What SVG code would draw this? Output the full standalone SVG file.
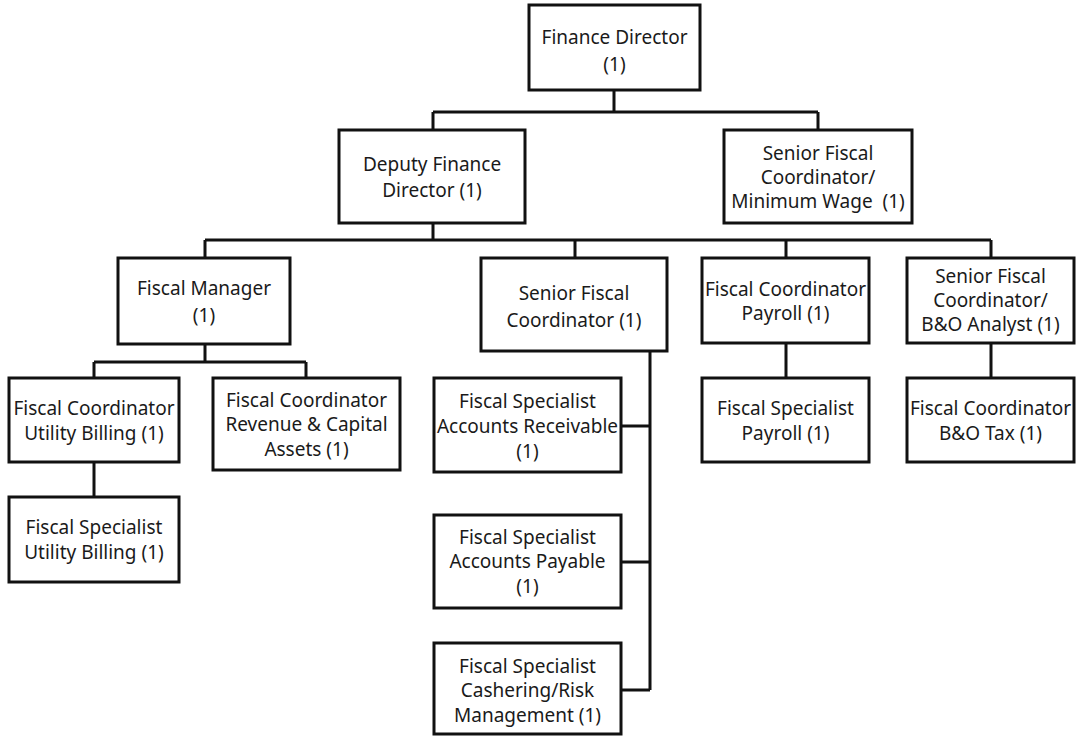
<svg xmlns="http://www.w3.org/2000/svg" width="1078" height="736" viewBox="0 0 1078 736">
<style>
.box{fill:#fff;stroke:#111;stroke-width:3}
.ln{fill:none;stroke:#111;stroke-width:3}
text{font-family:"Noto Sans","Open Sans","DejaVu Sans",sans-serif;font-size:19px;fill:#1a1a1a;text-anchor:middle;white-space:pre}
</style>
<rect width="1078" height="736" fill="#fff"/>
<g id="connectors" class="ln">
<path d="M614 90V112M433 112H818M433 112V130M818 112V130"/>
<path d="M433 223V240M205 240H991M205 240V258M575 240V258M786 240V258M991 240V258"/>
<path d="M205 344V362M94 362H306M94 362V378M306 362V378"/>
<path d="M94 462V497"/>
<path d="M650 351V690M621 426H650M621 562H650M621 690H650"/>
<path d="M786 343V378M991 343V378"/>
</g>
<g id="finance-director"><rect class="box" x="529" y="5" width="171" height="85"/><text x="614.5" y="44">Finance Director</text><text x="614.5" y="71">(1)</text></g>
<g id="deputy-finance-director"><rect class="box" x="339" y="130" width="186" height="93"/><text x="432" y="171">Deputy Finance</text><text x="432" y="197">Director (1)</text></g>
<g id="sfc-minimum-wage"><rect class="box" x="724" y="130" width="188" height="93"/><text x="818" y="160">Senior Fiscal</text><text x="818" y="184">Coordinator/</text><text x="818" y="208">Minimum Wage  (1)</text></g>
<g id="fiscal-manager"><rect class="box" x="118" y="258" width="172" height="86"/><text x="204" y="295">Fiscal Manager</text><text x="204" y="322">(1)</text></g>
<g id="senior-fiscal-coordinator"><rect class="box" x="481" y="258" width="186" height="93"/><text x="574" y="300">Senior Fiscal</text><text x="574" y="327">Coordinator (1)</text></g>
<g id="fc-payroll"><rect class="box" x="702" y="258" width="167" height="85"/><text x="785.5" y="296">Fiscal Coordinator</text><text x="785.5" y="320">Payroll (1)</text></g>
<g id="sfc-bo-analyst"><rect class="box" x="907" y="258" width="167" height="85"/><text x="990.5" y="283">Senior Fiscal</text><text x="990.5" y="307">Coordinator/</text><text x="990.5" y="331">B&amp;O Analyst (1)</text></g>
<g id="fc-utility-billing"><rect class="box" x="9" y="378" width="170" height="84"/><text x="94" y="415">Fiscal Coordinator</text><text x="94" y="440">Utility Billing (1)</text></g>
<g id="fc-revenue"><rect class="box" x="213" y="378" width="187" height="92"/><text x="306.5" y="407">Fiscal Coordinator</text><text x="306.5" y="431">Revenue &amp; Capital</text><text x="306.5" y="456">Assets (1)</text></g>
<g id="fs-utility-billing"><rect class="box" x="9" y="497" width="170" height="85"/><text x="94" y="534">Fiscal Specialist</text><text x="94" y="559">Utility Billing (1)</text></g>
<g id="fs-accounts-receivable"><rect class="box" x="434" y="378" width="187" height="94"/><text x="527.5" y="408">Fiscal Specialist</text><text x="527.5" y="433">Accounts Receivable</text><text x="527.5" y="458">(1)</text></g>
<g id="fs-accounts-payable"><rect class="box" x="434" y="515" width="187" height="93"/><text x="527.5" y="544">Fiscal Specialist</text><text x="527.5" y="568">Accounts Payable</text><text x="527.5" y="593">(1)</text></g>
<g id="fs-cashering"><rect class="box" x="434" y="643" width="187" height="91"/><text x="527.5" y="673">Fiscal Specialist</text><text x="527.5" y="697">Cashering/Risk</text><text x="527.5" y="722">Management (1)</text></g>
<g id="fs-payroll"><rect class="box" x="702" y="378" width="167" height="84"/><text x="785.5" y="415">Fiscal Specialist</text><text x="785.5" y="440">Payroll (1)</text></g>
<g id="fc-bo-tax"><rect class="box" x="907" y="378" width="167" height="84"/><text x="990.5" y="415">Fiscal Coordinator</text><text x="990.5" y="440">B&amp;O Tax (1)</text></g>
</svg>
